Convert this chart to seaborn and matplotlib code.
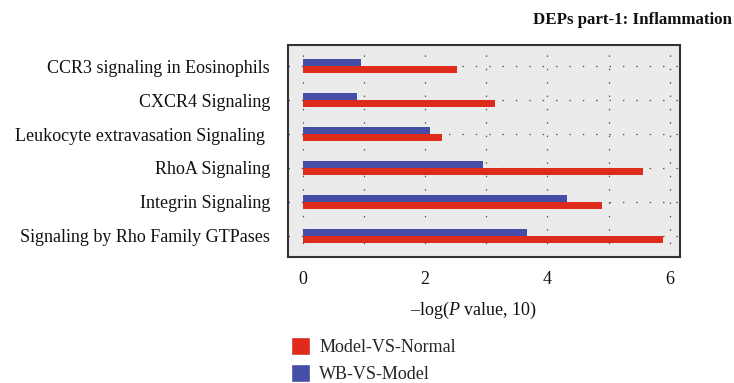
import matplotlib
matplotlib.use("Agg")
import matplotlib.pyplot as plt
import seaborn as sns
import pandas as pd
from matplotlib.patches import Patch

categories = [
    "CCR3 signaling in Eosinophils",
    "CXCR4 Signaling",
    "Leukocyte extravasation Signaling ",
    "RhoA Signaling",
    "Integrin Signaling",
    "Signaling by Rho Family GTPases",
]
wb_vs_model = [0.95, 0.88, 2.08, 2.95, 4.32, 3.67]
model_vs_normal = [2.52, 3.14, 2.27, 5.56, 4.89, 5.89]
series_names = ["WB-VS-Model", "Model-VS-Normal"]
x_ticks = [0, 2, 4, 6]

sns.set_theme(style="white")
plt.rcParams["font.family"] = ["Liberation Serif", "DejaVu Serif"]
plt.rcParams["mathtext.fontset"] = "custom"
plt.rcParams["mathtext.rm"] = "Liberation Serif"
plt.rcParams["mathtext.it"] = "Liberation Serif:italic"

df = pd.DataFrame({
    "pathway": categories * 2,
    "value": wb_vs_model + model_vs_normal,
    "series": [series_names[0]] * len(categories) + [series_names[1]] * len(categories),
})

colors = {"WB-VS-Model": "#454DA6", "Model-VS-Normal": "#DE2B1C"}

fig = plt.figure(figsize=(7.34, 3.83), dpi=100)
ax = fig.add_axes([288 / 734, 1 - 257 / 383, (680 - 288) / 734, (257 - 45) / 383])
ax.set_facecolor("#EBEBEB")

sns.barplot(data=df, y="pathway", x="value", hue="series", order=categories,
            hue_order=series_names, palette=colors, width=0.41, orient="h",
            ax=ax, legend=False, saturation=1, linewidth=0, edgecolor="none")

ax.set_xlim(-0.245, 6.17)
ax.set_ylim(5.62, -0.62)
ax.set_xticks(x_ticks)
ax.set_xticks([1, 3, 5], minor=True)
ax.set_axisbelow(True)
dot = dict(linestyle=(0, (1.2, 9.5)), linewidth=0.9, color="#555555")
ax.grid(True, which="both", axis="x", **dot)
ax.grid(True, which="major", axis="y", **dot)
ax.tick_params(axis="both", which="major", length=5, width=1.5, color="black",
               labelsize=13, labelcolor="#111111")
ax.tick_params(axis="x", which="minor", length=0)
ax.tick_params(axis="x", pad=5)
ax.tick_params(axis="y", pad=8)
for s in ax.spines.values():
    s.set_color("#333333")
    s.set_linewidth(1.5)

ax.set_ylabel("")
ax.set_xlabel("–log($\\mathit{P}$ value, 10)", fontsize=13, color="#111111")
ax.xaxis.set_label_coords((473 - 288) / (680 - 288), -(300 - 257) / (257 - 45))

fig.text(533 / 734, 1 - 20 / 383, "DEPs part-1: Inflammation", fontsize=12.2,
         fontweight="bold", ha="left", va="center", color="#111111")

handles = [Patch(facecolor=colors["Model-VS-Normal"], label="Model-VS-Normal"),
           Patch(facecolor=colors["WB-VS-Model"], label="WB-VS-Model")]
fig.legend(handles=handles, loc="upper left", bbox_to_anchor=(277 / 734, 1 - 323 / 383),
           frameon=False, fontsize=13, handlelength=1.0, handleheight=1.1,
           labelspacing=0.45, handletextpad=0.55, borderpad=0.3)

fig.savefig("out.png", dpi=100)
